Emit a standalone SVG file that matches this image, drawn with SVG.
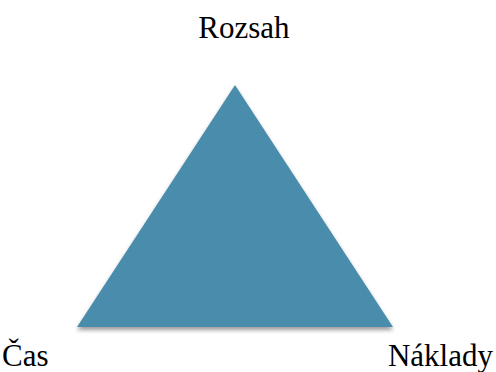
<svg xmlns="http://www.w3.org/2000/svg" width="496" height="372" viewBox="0 0 496 372">
<style>
.lbl{font-family:'Liberation Serif';font-size:31px;fill:#000}
</style>
<defs>
<filter id="sh" x="-10%" y="-10%" width="120%" height="130%">
<feGaussianBlur in="SourceAlpha" stdDeviation="2"/>
<feOffset dx="0" dy="3"/>
<feComponentTransfer><feFuncA type="linear" slope="0.4"/></feComponentTransfer>
<feMerge><feMergeNode/><feMergeNode in="SourceGraphic"/></feMerge>
</filter>
</defs>
<rect width="496" height="372" fill="#fff"/>
<g id="triangle">
<polygon points="235,85 393,327 77,327" fill="#4a8cab" filter="url(#sh)"/>
</g>
<g id="rozsah"><text class="lbl" x="244" y="38" text-anchor="middle">Rozsah</text></g>
<g id="cas"><text class="lbl" x="2" y="366">Čas</text></g>
<g id="naklady"><text class="lbl" x="493" y="366" text-anchor="end">Náklady</text></g>
<g id="connectors"/>
</svg>
